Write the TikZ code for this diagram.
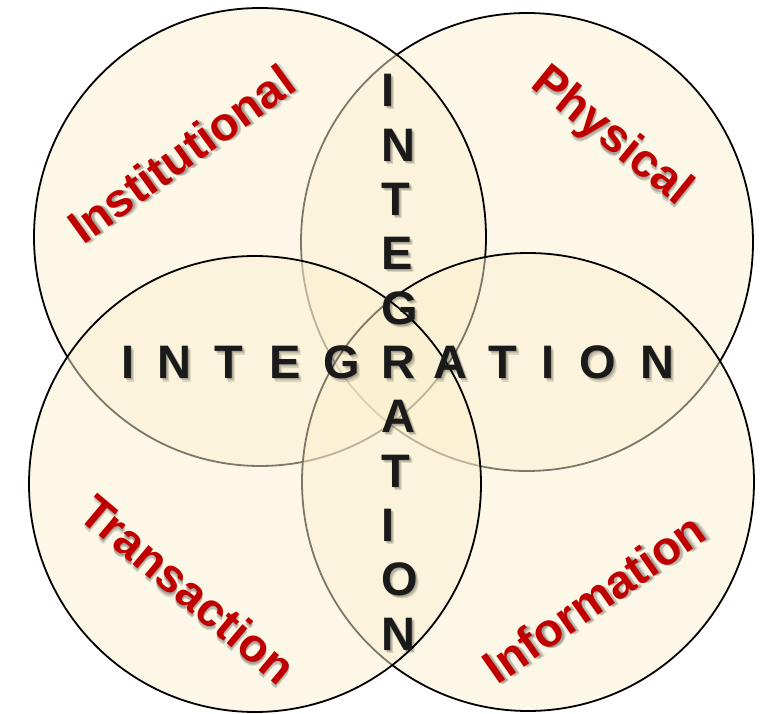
\documentclass[tikz,border=0pt]{standalone}
\usepackage{fontspec}
\setmainfont{Liberation Sans}
\definecolor{ringfill}{RGB}{250,239,207}
\definecolor{wordred}{RGB}{192,0,0}
\definecolor{inkdark}{RGB}{26,26,26}
% text with a soft drop shadow: #1 name, #2 position, #3 style, #4 text
\newcommand\shtext[4]{%
  \foreach \k/\d in {1/1.0,2/2.0,3/3.0}{%
    \node[#3,text=black,text opacity=0.13,xshift=\d pt,yshift=-\d pt] (#1s\k) at (#2) {#4};}
  \node[#3] (#1) at (#2) {#4};}
\begin{document}
\begin{tikzpicture}[x=1pt,y=-1pt,
  ring/.style={draw=black, line width=1.8pt, fill=ringfill, fill opacity=0.5},
  word/.style={font=\fontsize{47}{47}\selectfont\bfseries, text=wordred, inner sep=0pt, anchor=center},
  hletter/.style={font=\fontsize{47}{47}\selectfont\bfseries, text=inkdark, inner sep=0pt, anchor=base},
  vletter/.style={font=\fontsize{47}{47}\selectfont\bfseries, text=inkdark, inner sep=0pt, anchor=base west}]
\useasboundingbox (0,0) rectangle (764,714);

% four overlapping rings
\path[ring] (527,242) ellipse [x radius=226, y radius=229];
\path[ring] (260,237) ellipse [x radius=226, y radius=229];
\path[ring] (528,482) ellipse [x radius=226, y radius=229];
\path[ring] (255,484) ellipse [x radius=226, y radius=228];

% labels of the four rings
\shtext{inst}{181,154}{word,rotate=36}{Institutional}
\shtext{phys}{611,137}{word,rotate=-39}{Physical}
\shtext{trans}{188,589}{word,rotate=-40}{Transaction}
\shtext{info}{594,598}{word,rotate=35}{Information}

% INTEGRATION across
\shtext{h1}{128,379}{hletter}{I}
\shtext{h2}{174,379}{hletter}{N}
\shtext{h3}{229,379}{hletter}{T}
\shtext{h4}{285,379}{hletter}{E}
\shtext{h5}{342,379}{hletter}{G}
\shtext{h7}{450,379}{hletter}{A}
\shtext{h8}{503,379}{hletter}{T}
\shtext{h9}{548,379}{hletter}{I}
\shtext{h10}{598,379}{hletter}{O}
\shtext{h11}{657,379}{hletter}{N}

% INTEGRATION down, sharing the R
\shtext{v1}{381,107}{vletter}{I}
\shtext{v2}{381,161.3}{vletter}{N}
\shtext{v3}{381,215.6}{vletter}{T}
\shtext{v4}{381,269.9}{vletter}{E}
\shtext{v5}{381,324.2}{vletter}{G}
\shtext{v6}{381,379}{vletter}{R}
\shtext{v7}{381,432.8}{vletter}{A}
\shtext{v8}{381,487.1}{vletter}{T}
\shtext{v9}{381,541.4}{vletter}{I}
\shtext{v10}{381,595.7}{vletter}{O}
\shtext{v11}{381,650}{vletter}{N}
\end{tikzpicture}
\end{document}
